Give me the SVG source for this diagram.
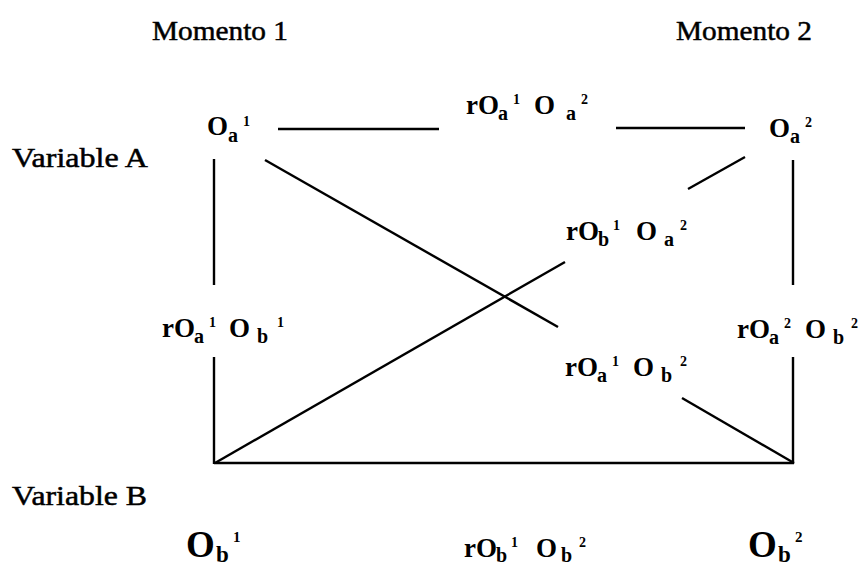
<svg xmlns="http://www.w3.org/2000/svg" width="864" height="568" viewBox="0 0 864 568">
<style>
text{font-family:"Liberation Serif","Tinos","Times New Roman","DejaVu Serif",serif;fill:#000}
.h{font-size:28px;stroke:#000;stroke-width:0.5}
.m{font-size:27px;font-weight:bold}
.sb{font-size:20px;font-weight:bold}
.sp{font-size:14px;font-weight:bold}
.big{font-size:37px;font-weight:bold}
.bsb{font-size:23px;font-weight:bold}
.bsp{font-size:15px;font-weight:bold}
.c line{stroke:#000;stroke-width:2.4;stroke-linecap:butt}
</style>
<rect width="864" height="568" fill="#fff"/>
<g id="headers">
<text class="h" x="152" y="40" textLength="136" lengthAdjust="spacingAndGlyphs">Momento 1</text>
<text class="h" x="676" y="40" textLength="136" lengthAdjust="spacingAndGlyphs">Momento 2</text>
<text class="h" x="12" y="167" textLength="136" lengthAdjust="spacingAndGlyphs">Variable A</text>
<text class="h" x="12" y="505" textLength="135" lengthAdjust="spacingAndGlyphs">Variable B</text>
</g>
<g id="connectors" class="c">
<line x1="278" y1="129" x2="439" y2="129"/>
<line x1="616" y1="128" x2="745" y2="128"/>
<line x1="214" y1="159" x2="214" y2="285"/>
<line x1="214" y1="357" x2="214" y2="464"/>
<line x1="793" y1="160" x2="793" y2="285"/>
<line x1="793" y1="357" x2="793" y2="464"/>
<line x1="214" y1="463" x2="794" y2="463"/>
<line x1="265" y1="160" x2="558" y2="327"/>
<line x1="682" y1="398" x2="794" y2="463"/>
<line x1="215" y1="463" x2="565" y2="262"/>
<line x1="688" y1="189" x2="745" y2="157"/>
</g>
<g id="node-oa1"><text><tspan class="m" x="207" y="135">O</tspan><tspan class="sb" x="228" y="142">a</tspan><tspan class="sp" x="243" y="126">1</tspan></text></g>
<g id="node-oa2"><text><tspan class="m" x="769" y="137">O</tspan><tspan class="sb" x="790" y="143">a</tspan><tspan class="sp" x="805" y="127">2</tspan></text></g>
<g id="node-ob1"><text><tspan class="big" x="186" y="557">O</tspan><tspan class="bsb" x="216" y="562">b</tspan><tspan class="bsp" x="233" y="542">1</tspan></text></g>
<g id="node-ob2"><text><tspan class="big" x="748" y="557">O</tspan><tspan class="bsb" x="778" y="562">b</tspan><tspan class="bsp" x="795" y="542">2</tspan></text></g>
<g id="label-a1a2"><text><tspan class="m" x="466" y="114">rO</tspan><tspan class="sb" x="498" y="120">a</tspan><tspan class="sp" x="513" y="104">1</tspan><tspan class="m" x="534" y="114">O</tspan><tspan class="sb" x="566" y="120">a</tspan><tspan class="sp" x="581" y="104">2</tspan></text></g>
<g id="label-b1a2"><text><tspan class="m" x="566" y="240">rO</tspan><tspan class="sb" x="598" y="246">b</tspan><tspan class="sp" x="613" y="230">1</tspan><tspan class="m" x="636" y="240">O</tspan><tspan class="sb" x="664" y="246">a</tspan><tspan class="sp" x="680" y="230">2</tspan></text></g>
<g id="label-a1b1"><text><tspan class="m" x="162" y="337">rO</tspan><tspan class="sb" x="194" y="343">a</tspan><tspan class="sp" x="209" y="327">1</tspan><tspan class="m" x="229" y="337">O</tspan><tspan class="sb" x="257" y="343">b</tspan><tspan class="sp" x="277" y="327">1</tspan></text></g>
<g id="label-a2b2"><text><tspan class="m" x="737" y="338">rO</tspan><tspan class="sb" x="769" y="344">a</tspan><tspan class="sp" x="784" y="328">2</tspan><tspan class="m" x="805" y="338">O</tspan><tspan class="sb" x="833" y="344">b</tspan><tspan class="sp" x="851" y="328">2</tspan></text></g>
<g id="label-a1b2"><text><tspan class="m" x="565" y="376">rO</tspan><tspan class="sb" x="597" y="382">a</tspan><tspan class="sp" x="612" y="366">1</tspan><tspan class="m" x="633" y="376">O</tspan><tspan class="sb" x="661" y="382">b</tspan><tspan class="sp" x="680" y="366">2</tspan></text></g>
<g id="label-b1b2"><text><tspan class="m" x="464" y="557">rO</tspan><tspan class="sb" x="496" y="562">b</tspan><tspan class="sp" x="511" y="547">1</tspan><tspan class="m" x="536" y="557">O</tspan><tspan class="sb" x="561" y="562">b</tspan><tspan class="sp" x="579" y="547">2</tspan></text></g>
</svg>
